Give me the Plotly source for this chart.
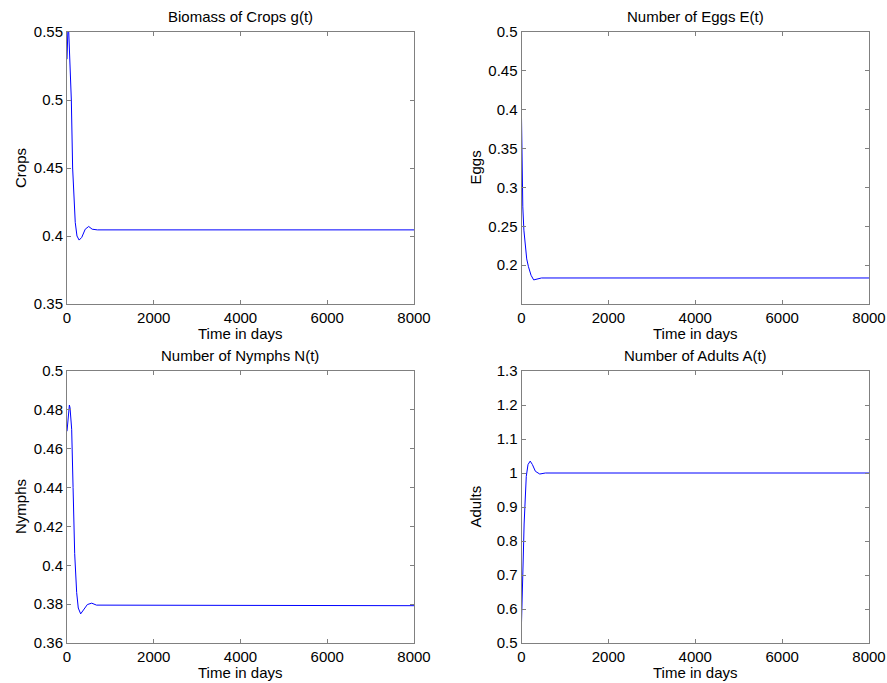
import plotly.graph_objects as go

W, H = 887, 683

# ---- data ----
crops_t = [0, 10, 25, 40, 70, 100, 130, 160, 190, 230, 280, 340, 420, 500, 580, 700, 8000]
crops_v = [0.53, 0.545, 0.556, 0.55, 0.525, 0.50, 0.45, 0.425, 0.41, 0.40, 0.397, 0.399, 0.405, 0.407, 0.405, 0.4045, 0.4045]

eggs_t = [0, 5, 12, 30, 55, 85, 120, 160, 220, 280, 350, 460, 8000]
eggs_v = [0.39, 0.35, 0.32, 0.275, 0.245, 0.224, 0.208, 0.198, 0.187, 0.181, 0.182, 0.1835, 0.1835]

nymph_t = [0, 20, 40, 55, 70, 90, 108, 140, 177, 223, 260, 315, 380, 470, 570, 680, 8000]
nymph_v = [0.469, 0.476, 0.481, 0.4825, 0.481, 0.476, 0.47, 0.44, 0.406, 0.386, 0.378, 0.375, 0.377, 0.3798, 0.3805, 0.3795, 0.3792]

adult_t = [0, 20, 40, 60, 80, 110, 150, 200, 250, 320, 420, 550, 8000]
adult_v = [0.56, 0.63, 0.75, 0.85, 0.93, 0.99, 1.025, 1.035, 1.025, 1.005, 0.997, 1.0, 1.0]

x_ticks = [0, 2000, 4000, 6000, 8000]
crops_ticks = [0.35, 0.40, 0.45, 0.50, 0.55]
crops_labels = ["0.35", "0.4", "0.45", "0.5", "0.55"]
eggs_ticks = [0.2, 0.25, 0.3, 0.35, 0.4, 0.45, 0.5]
eggs_labels = ["0.2", "0.25", "0.3", "0.35", "0.4", "0.45", "0.5"]
nymph_ticks = [0.36, 0.38, 0.40, 0.42, 0.44, 0.46, 0.48, 0.50]
nymph_labels = ["0.36", "0.38", "0.4", "0.42", "0.44", "0.46", "0.48", "0.5"]
adult_ticks = [0.5, 0.6, 0.7, 0.8, 0.9, 1.0, 1.1, 1.2, 1.3]
adult_labels = ["0.5", "0.6", "0.7", "0.8", "0.9", "1", "1.1", "1.2", "1.3"]

titles = ["Biomass of Crops g(t)", "Number of Eggs E(t)", "Number of Nymphs N(t)", "Number of Adults A(t)"]
ylabels = ["Crops", "Eggs", "Nymphs", "Adults"]
xlabel = "Time in days"

# ---- layout geometry (window pixels) ----
cols = [(67, 414), (521.5, 869)]
rows = [(32, 304), (371, 643)]

def px_x(x):
    return x / W

def px_y(y):
    return 1 - y / H

FONT = "Liberation Sans, Arial, Helvetica, sans-serif"
fig = go.Figure()

series = [(crops_t, crops_v), (eggs_t, eggs_v), (nymph_t, nymph_v), (adult_t, adult_v)]
yranges = [[0.35, 0.55], [0.15, 0.5], [0.36, 0.5], [0.5, 1.3]]
yticks = [(crops_ticks, crops_labels), (eggs_ticks, eggs_labels), (nymph_ticks, nymph_labels), (adult_ticks, adult_labels)]

annotations = []
for i in range(4):
    r, c = divmod(i, 2)
    xa = "xaxis" if i == 0 else f"xaxis{i+1}"
    ya = "yaxis" if i == 0 else f"yaxis{i+1}"
    xref = "x" if i == 0 else f"x{i+1}"
    yref = "y" if i == 0 else f"y{i+1}"
    t, v = series[i]
    fig.add_trace(go.Scatter(x=t, y=v, mode="lines", line=dict(color="#0000ff", width=1),
                             xaxis=xref, yaxis=yref, showlegend=False, hoverinfo="skip"))
    x0, x1 = cols[c]
    y0, y1 = rows[r]
    common = dict(showline=True, linecolor="#808080", linewidth=1, mirror="ticks",
                  ticks="inside", ticklen=4, tickcolor="#808080", showgrid=False, zeroline=False,
                  automargin=False,
                  tickfont=dict(family=FONT, size=15, color="black"))
    fig.update_layout(**{
        xa: dict(domain=[px_x(x0), px_x(x1)], range=[0, 8000], tickvals=x_ticks,
                 ticktext=[str(k) for k in x_ticks], anchor=yref, **common),
        ya: dict(domain=[px_y(y1), px_y(y0)], range=yranges[i], tickvals=yticks[i][0],
                 ticktext=yticks[i][1], anchor=xref, **common),
    })
    cx = (x0 + x1) / 2
    annotations.append(dict(text=titles[i], x=px_x(cx), y=px_y(y0 - 16), xref="paper", yref="paper",
                            showarrow=False, xanchor="center", yanchor="middle",
                            font=dict(family=FONT, size=15, color="black")))
    annotations.append(dict(text=xlabel, x=px_x(cx), y=px_y(y1 + 29), xref="paper", yref="paper",
                            showarrow=False, xanchor="center", yanchor="middle",
                            font=dict(family=FONT, size=15, color="black")))
    annotations.append(dict(text=ylabels[i], x=px_x(x0 - 47), y=px_y((y0 + y1) / 2), xref="paper", yref="paper",
                            showarrow=False, xanchor="center", yanchor="middle", textangle=-90,
                            font=dict(family=FONT, size=15, color="black")))

fig.update_layout(width=W, height=H, margin=dict(l=0, r=0, t=0, b=0),
                  paper_bgcolor="white", plot_bgcolor="white", annotations=annotations)

fig.write_html("out.html", config={"displayModeBar": False},
               post_script="document.body.style.margin='0';document.body.style.overflow='hidden';")
